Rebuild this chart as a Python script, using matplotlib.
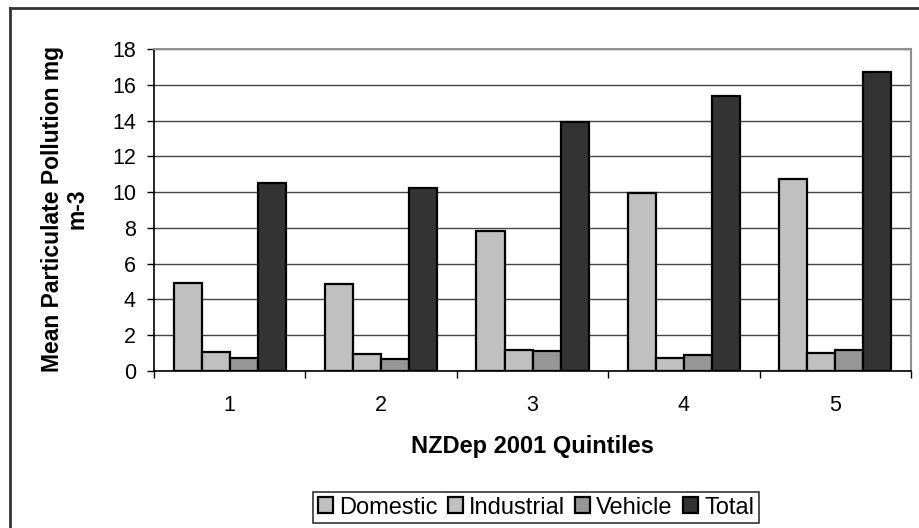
import numpy as np
import matplotlib.pyplot as plt
from matplotlib.patches import Patch
from matplotlib.lines import Line2D

plt.rcParams['font.family'] = ['Liberation Sans', 'DejaVu Sans']

# mean particulate pollution by NZDep 2001 quintile
quintiles = ['1', '2', '3', '4', '5']
domestic = [4.9, 4.85, 7.8, 9.95, 10.75]
industrial = [1.05, 0.95, 1.15, 0.75, 1.0]
vehicle = [0.75, 0.65, 1.1, 0.9, 1.2]
total = [10.5, 10.25, 13.9, 15.4, 16.7]

series = ['Domestic', 'Industrial', 'Vehicle', 'Total']
colours = ['#c0c0c0', '#c0c0c0', '#969696', '#333333']

fig = plt.figure(figsize=(9.19, 5.28), dpi=100)
ax = fig.add_axes([0.1676, 0.2973, 0.8237, 0.6099])

x = np.arange(len(quintiles))
w = 0.185
for i, (vals, c) in enumerate(zip([domestic, industrial, vehicle, total], colours)):
	ax.bar(x + (i - 1.5) * w, vals, w, color=c, edgecolor='black', linewidth=1.6, zorder=3)

ax.set_ylim(0, 18)
ax.set_xlim(-0.5, 4.5)
ax.set_yticks(np.arange(0, 19, 2))
ax.yaxis.grid(True, color='#444444', linewidth=1.0, zorder=0)

# group boundaries get the ticks, centres get the labels
ax.set_xticks(np.arange(-0.5, 5, 1))
ax.set_xticklabels([])
ax.set_xticks(x, minor=True)
ax.set_xticklabels(quintiles, minor=True)
ax.tick_params(axis='x', which='major', direction='out', length=5, width=1)
ax.tick_params(axis='x', which='minor', length=0, pad=17, labelsize=15.5)
ax.tick_params(axis='y', direction='out', length=5, width=1, labelsize=15.5, pad=8)

for s in ['left', 'bottom']:
	ax.spines[s].set_color('black')
	ax.spines[s].set_linewidth(1.2)
for s in ['top', 'right']:
	ax.spines[s].set_color('#909090')
	ax.spines[s].set_linewidth(1.5)

fig.text(532 / 919, 1 - 447 / 528, 'NZDep 2001 Quintiles', fontsize=17, fontweight='bold',
	ha='center', va='center')
fig.text(65 / 919, 1 - 209 / 528, 'Mean Particulate Pollution mg\nm-3', fontsize=16.5,
	fontweight='bold', rotation=90, ha='center', va='center', multialignment='center',
	linespacing=1.1)

handles = [Patch(facecolor=c, edgecolor='black', linewidth=1.6) for c in colours]
leg = fig.legend(handles, series, loc='center', bbox_to_anchor=(536 / 919, 1 - 507.5 / 528),
	ncol=4, frameon=True, fancybox=False, fontsize=17, handlelength=0.63, handleheight=0.63,
	handletextpad=0.25, columnspacing=0.45, borderpad=0.2, borderaxespad=0)
leg.get_frame().set_edgecolor('black')
leg.get_frame().set_linewidth(1.2)

# outer chart border (left and top edges)
fig.add_artist(Line2D([9.5 / 919, 9.5 / 919], [0, 1 - 7.5 / 528], color='#333333', lw=2))
fig.add_artist(Line2D([9.5 / 919, 1], [1 - 7.5 / 528, 1 - 7.5 / 528], color='#333333', lw=2))

fig.savefig('out.png', dpi=100)
